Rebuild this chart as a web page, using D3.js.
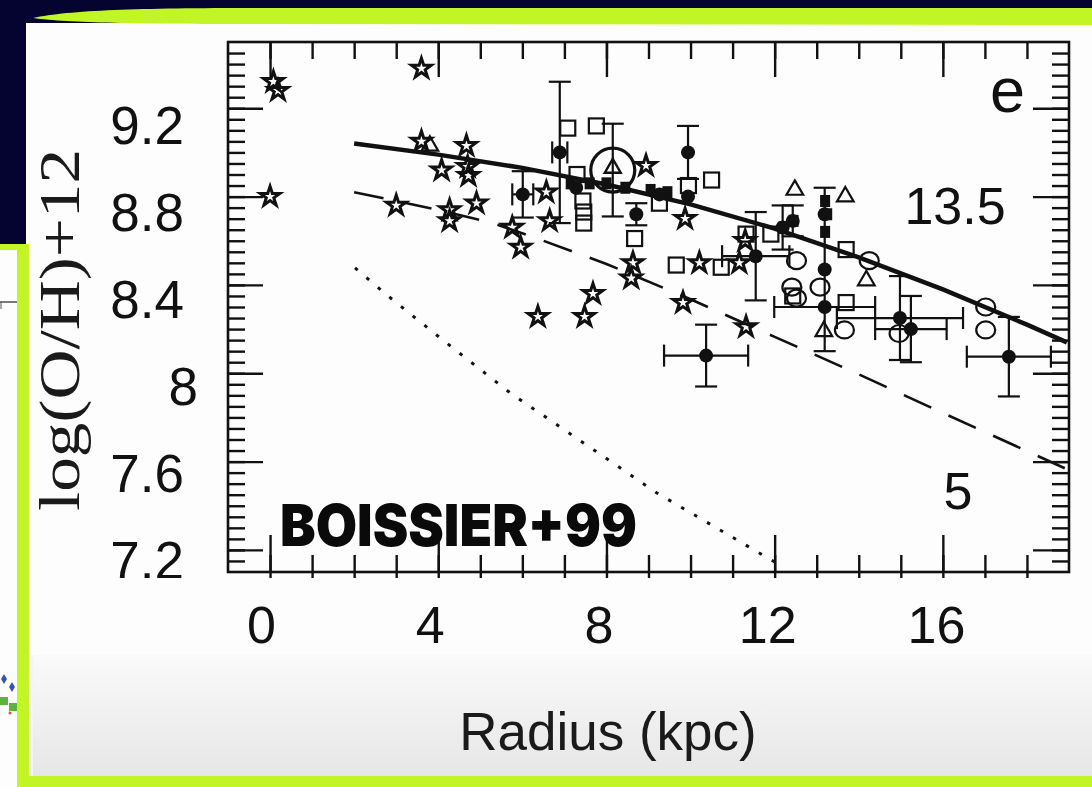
<!DOCTYPE html>
<html><head><meta charset="utf-8">
<script src="https://cdn.jsdelivr.net/npm/d3@7"></script>
<style>body{margin:0;background:#050330;} svg{display:block}</style>
</head><body>
<svg id="c" width="1092" height="787"></svg>
<script>
// ---------- data (Radius kpc, log(O/H)+12) ----------
const xMajor = [0, 4, 8, 12, 16];
const yMajor = [9.2, 8.8, 8.4, 8, 7.6, 7.2];
const solidModel = [[2,9.04],[4,8.99],[6,8.93],[8,8.855],[10,8.765],[12,8.655],[14,8.525],[16,8.38],[18,8.22],[18.95,8.14]];
const dashedModel = [[2,8.82],[4,8.74],[5.3,8.68],[6.5,8.60],[8,8.495],[10,8.335],[12,8.165],[14,7.995],[16,7.82],[18.9,7.57]];
const dottedModel = [[2.02,8.477],[2.92,8.332],[4.35,8.114],[5.71,7.911],[9.2,7.458],[12.2,7.123]];
const stars = [[0.08,9.32],[0.19,9.28],[0.0,8.80],[3.6,9.38],[3.6,9.05],[4.67,9.03],[4.08,8.92],[4.70,8.935],[4.72,8.895],
  [3.0,8.76],[4.27,8.74],[4.27,8.69],[4.91,8.77],[5.76,8.66],[5.96,8.57],[6.65,8.69],[6.57,8.82],[6.37,8.256],[7.48,8.256],
  [7.68,8.36],[8.63,8.50],[8.59,8.43],[8.94,8.94],[9.87,8.70],[10.21,8.50],[11.16,8.50],[9.82,8.32],[11.32,8.21],[11.3,8.60]];
const openSquares = [[7.08,9.11],[7.76,9.12],[7.3,8.9],[7.44,8.78],[7.46,8.73],[7.46,8.68],[8.67,8.61],[9.26,8.77],[9.66,8.49],
  [9.95,8.85],[10.5,8.875],[10.73,8.48],[11.32,8.63],[11.91,8.63],[12.43,8.35],[13.7,8.56],[13.7,8.32]];
// [R, OH, xerr, yerr]
const filledCircles = [[6.89,9.00,0.18,0.32],[6.01,8.81,0.25,0.105],[7.28,8.84,0,0],[8.71,8.72,0,0.05],[9.26,8.81,0,0],
  [9.94,9.0,0,0.12],[9.94,8.80,0,0],[11.55,8.53,0.8,0.2],[12.19,8.66,0,0.1],[12.43,8.69,0,0.07],[13.19,8.47,0,0.37],
  [13.19,8.72,0,0],[13.19,8.30,1.2,0],[14.98,8.25,1.5,0.19],[15.24,8.20,0.85,0.15],[10.37,8.08,1.0,0.14],[17.57,8.075,1.0,0.18]];
const openCircles = [[17.02,8.30],[17.02,8.196],[12.52,8.51],[12.41,8.39],[13.08,8.39],[12.52,8.34],[14.25,8.51],[13.66,8.196],[14.96,8.18]];
const triangles = [[3.8,9.03],[12.48,8.83],[13.68,8.80],[14.18,8.42],[13.17,8.19]];
const filledSquares = [[12.2,8.66],[12.45,8.69],[13.2,8.78],[13.25,8.72],[13.2,8.64],[7.15,8.86],[7.6,8.86],[8.0,8.86],[8.45,8.84],[9.05,8.83],[9.45,8.82]];
const sun = [8.15, 8.92, 0.21];
const curveLabels = [["13.5", 16.29, 8.764], ["5", 16.36, 7.47]];

// ---------- scales ----------
const x = d3.scaleLinear().domain([-1, 19]).range([228, 1069]);
const y = d3.scaleLinear().domain([7.1, 9.5]).range([572, 42]);
const xLab = d3.scaleLinear().domain([0, 16]).range([261, 936]);
const yLab = d3.scaleLinear().domain([7.2, 9.2]).range([562, 127]);

const svg = d3.select('#c');
const ink = '#111';
const lime = '#c2f526';

// ---------- slide background ----------
svg.append('rect').attr('width',1092).attr('height',787).attr('fill','#050330');
svg.append('rect').attr('x',26).attr('y',23).attr('width',1066).attr('height',764).attr('fill','#fdfdfd');
svg.append('rect').attr('x',0).attr('y',248).attr('width',22).attr('height',539).attr('fill','#fdfdfd');
const defs = svg.append('defs');
const gr = defs.append('linearGradient').attr('id','gbox').attr('x1',0).attr('y1',0).attr('x2',0).attr('y2',1);
gr.append('stop').attr('offset',0).attr('stop-color','#fafafa');
gr.append('stop').attr('offset',1).attr('stop-color','#e6e6e6');
svg.append('rect').attr('x',30).attr('y',655).attr('width',1062).attr('height',122).attr('fill','url(#gbox)');
svg.append('line').attr('x1',32).attr('x2',32).attr('y1',655).attr('y2',777).attr('stroke','#f4f4f4').attr('stroke-width',2);

// left strip remnants
svg.append('line').attr('x1',0).attr('x2',20).attr('y1',302).attr('y2',302).attr('stroke','#222').attr('stroke-width',1.2);
svg.append('line').attr('x1',1).attr('x2',1).attr('y1',302).attr('y2',309).attr('stroke','#555').attr('stroke-width',1);
[[4,679],[12,687]].forEach(p=>svg.append('path').attr('d',d3.symbol(d3.symbolDiamond,30)()).attr('transform',`translate(${p})`).attr('fill','#3553b5'));
[[4,701],[13,707]].forEach(p=>svg.append('rect').attr('x',p[0]-4).attr('y',p[1]-4).attr('width',8).attr('height',8).attr('fill','#5cb23c'));
svg.append('circle').attr('cx',10).attr('cy',713).attr('r',1.5).attr('fill','#e05050');

// lime frame
svg.append('rect').attr('x',17).attr('y',244).attr('width',12).attr('height',543).attr('fill',lime);
svg.append('rect').attr('x',0).attr('y',244).attr('width',29).attr('height',6).attr('fill',lime);
svg.append('rect').attr('x',17).attr('y',776).attr('width',1075).attr('height',11).attr('fill',lime);
svg.append('path').attr('d','M33,18 C70,10 140,8 260,8 L1092,8 L1092,25 L260,24 C140,24 70,23 33,18 Z').attr('fill',lime);

// ---------- plot image ----------
defs.append('clipPath').attr('id','clipImg').append('rect').attr('x',26).attr('y',25).attr('width',1066).attr('height',553);
const g = svg.append('g').attr('clip-path','url(#clipImg)');

function styleAxis(sel){ sel.select('.domain').remove(); sel.selectAll('line').attr('stroke',ink).attr('stroke-width',2.4); }
const xMinor = d3.range(0, 19);
const yMinor = d3.range(1, 48).map(i => +(7.1 + 0.05*i).toFixed(2));

g.append('g').attr('transform','translate(0,42)').call(d3.axisTop(x).tickValues(xMinor).tickSize(-17).tickFormat('')).call(styleAxis);
g.append('g').attr('transform','translate(0,42)').call(d3.axisTop(x).tickValues(xMajor).tickSize(-35).tickFormat('')).call(styleAxis);
g.append('g').attr('transform','translate(0,572)').call(d3.axisBottom(x).tickValues(xMinor).tickSize(-17).tickFormat('')).call(styleAxis);
g.append('g').attr('transform','translate(0,572)').call(d3.axisBottom(x).tickValues(xMajor).tickSize(-37).tickFormat('')).call(styleAxis);
g.append('g').attr('transform','translate(0,572)').call(d3.axisBottom(x).tickValues(xMinor).tickSize(10).tickFormat('')).call(styleAxis);
g.append('g').attr('transform','translate(228,0)').call(d3.axisLeft(y).tickValues(yMinor).tickSize(-17).tickFormat('')).call(styleAxis);
g.append('g').attr('transform','translate(228,0)').call(d3.axisLeft(y).tickValues(yMajor).tickSize(-35).tickFormat('')).call(styleAxis);
g.append('g').attr('transform','translate(1069,0)').call(d3.axisRight(y).tickValues(yMinor).tickSize(-17).tickFormat('')).call(styleAxis);
g.append('g').attr('transform','translate(1069,0)').call(d3.axisRight(y).tickValues(yMajor).tickSize(-36).tickFormat('')).call(styleAxis);
g.append('rect').attr('x',x(-1)).attr('y',y(9.5)).attr('width',x(19)-x(-1)).attr('height',y(7.1)-y(9.5))
  .attr('fill','none').attr('stroke',ink).attr('stroke-width',2.6);

// y tick labels
const yAx = g.append('g').attr('transform','translate(184,0)')
  .call(d3.axisLeft(yLab).tickValues(yMajor).tickSize(0).tickPadding(0).tickFormat(d => Number.isInteger(d) ? String(d) : d.toFixed(1)));
yAx.select('.domain').remove();
yAx.selectAll('text').attr('font-family','Liberation Sans, Arial, sans-serif').attr('font-size',53).attr('fill',ink)
  .attr('x', d => Number.isInteger(d) ? 14 : 0);

// y title
g.append('text').attr('transform','translate(79,330) rotate(-90)').attr('text-anchor','middle')
  .attr('font-family','Liberation Serif, Times New Roman, serif').attr('font-size',56).attr('fill','#1a1a1a')
  .attr('textLength',362).attr('lengthAdjust','spacingAndGlyphs').text('log(O/H)+12');

// model curves
const line = d3.line().x(d => x(d[0])).y(d => y(d[1]));
g.append('path').attr('d',line(solidModel)).attr('fill','none').attr('stroke',ink).attr('stroke-width',4.5);
g.append('path').attr('d',line(dashedModel)).attr('fill','none').attr('stroke',ink).attr('stroke-width',2.6).attr('stroke-dasharray','30,19');
g.append('path').attr('d',line(dottedModel)).attr('fill','none').attr('stroke',ink).attr('stroke-width',3).attr('stroke-dasharray','3.5,11.5');

// error bars
const cap = 11;
function errBars(d){
  const [R, OH, xe, ye] = d;
  const s = g.append('g').attr('stroke',ink).attr('stroke-width',2.2);
  if (ye > 0){
    s.append('line').attr('x1',x(R)).attr('x2',x(R)).attr('y1',y(OH-ye)).attr('y2',y(OH+ye));
    [OH-ye, OH+ye].forEach(v => s.append('line').attr('x1',x(R)-cap).attr('x2',x(R)+cap).attr('y1',y(v)).attr('y2',y(v)));
  }
  if (xe > 0){
    s.append('line').attr('x1',x(R-xe)).attr('x2',x(R+xe)).attr('y1',y(OH)).attr('y2',y(OH));
    [R-xe, R+xe].forEach(v => s.append('line').attr('x1',x(v)).attr('x2',x(v)).attr('y1',y(OH)-cap).attr('y2',y(OH)+cap));
  }
}
filledCircles.forEach(errBars);
errBars([sun[0], sun[1], 0, sun[2]]);

// markers
g.selectAll('.star').data(stars).join('path').attr('d', d3.symbol(d3.symbolStar, 120)())
  .attr('transform', d => `translate(${x(d[0])},${y(d[1])})`).attr('fill','none').attr('stroke',ink).attr('stroke-width',3);
g.selectAll('.osq').data(openSquares).join('rect').attr('x', d => x(d[0])-7.5).attr('y', d => y(d[1])-7.5)
  .attr('width',15).attr('height',15).attr('fill','none').attr('stroke',ink).attr('stroke-width',2.2);
g.selectAll('.fsq').data(filledSquares).join('rect').attr('x', d => x(d[0])-5).attr('y', d => y(d[1])-6)
  .attr('width',10).attr('height',12).attr('fill',ink);
g.selectAll('.ocirc').data(openCircles).join('ellipse').attr('cx', d => x(d[0])).attr('cy', d => y(d[1]))
  .attr('rx',9.5).attr('ry',8.5).attr('fill','none').attr('stroke',ink).attr('stroke-width',2.2);
g.selectAll('.tri').data(triangles).join('path').attr('d', d3.symbol(d3.symbolTriangle, 120)())
  .attr('transform', d => `translate(${x(d[0])},${y(d[1])})`).attr('fill','none').attr('stroke',ink).attr('stroke-width',2.2);
g.selectAll('.fcirc').data(filledCircles).join('circle').attr('cx', d => x(d[0])).attr('cy', d => y(d[1]))
  .attr('r',7).attr('fill',ink);
g.append('circle').attr('cx',x(sun[0])).attr('cy',y(sun[1])).attr('r',22).attr('fill','none').attr('stroke',ink).attr('stroke-width',3.2);
g.append('path').attr('d', d3.symbol(d3.symbolTriangle, 110)()).attr('transform',`translate(${x(sun[0])},${y(sun[1])-2})`)
  .attr('fill','none').attr('stroke',ink).attr('stroke-width',2.4);

// panel annotations
g.append('text').attr('x',990).attr('y',112).attr('font-family','Liberation Sans, Arial, sans-serif').attr('font-size',63).attr('fill',ink).text('e');
g.selectAll('.clab').data(curveLabels).join('text')
  .attr('x', d => x(d[1])).attr('y', d => y(d[2]) + 19).attr('text-anchor','middle')
  .attr('font-family','Liberation Sans, Arial, sans-serif').attr('font-size',52).attr('fill',ink).text(d => d[0]);

// overlay label
svg.append('text').attr('x',280).attr('y',546).attr('font-family','Inter, DejaVu Sans, sans-serif').attr('font-weight',900)
  .attr('font-size',58).attr('fill','#0a0a0a').attr('textLength',357).attr('lengthAdjust','spacingAndGlyphs').text('BOISSIER+99');

// x tick labels
const xAx = svg.append('g').attr('transform','translate(0,643)')
  .call(d3.axisBottom(xLab).tickValues(xMajor).tickSize(0).tickPadding(0).tickFormat(d3.format('d')));
xAx.select('.domain').remove();
xAx.selectAll('text').attr('dy',null).attr('y',0).attr('font-family','Liberation Sans, Arial, sans-serif').attr('font-size',52).attr('fill',ink);

// x title
svg.append('text').attr('x',608).attr('y',750).attr('text-anchor','middle').attr('font-family','Liberation Sans, Arial, sans-serif')
  .attr('font-size',53).attr('fill','#1a1a1a').text('Radius (kpc)');
</script>
</body></html>
